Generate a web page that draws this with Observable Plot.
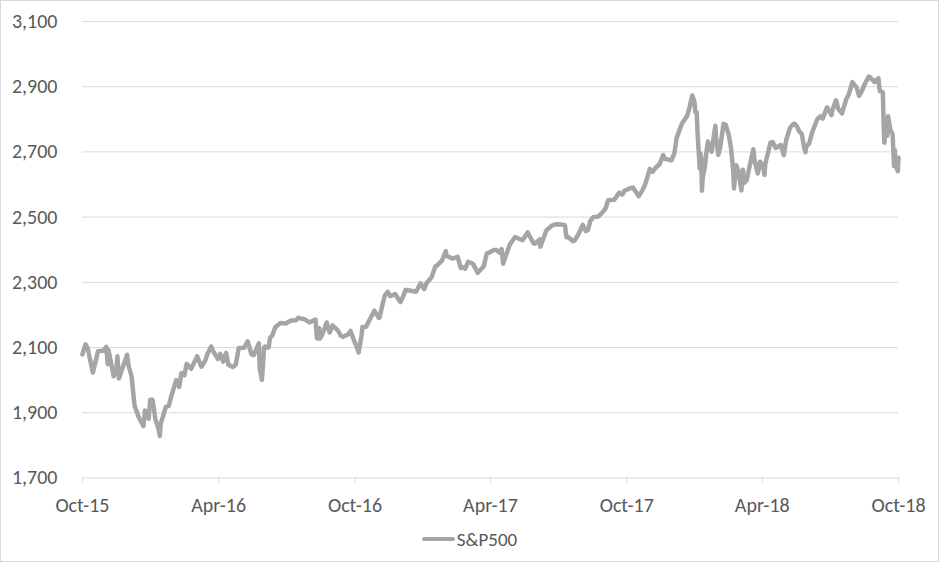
<!DOCTYPE html>
<html>
<head>
<meta charset="utf-8">
<script src="https://cdn.jsdelivr.net/npm/d3@7"></script>
<script src="https://cdn.jsdelivr.net/npm/@observablehq/plot@0.6"></script>
<style>
  html, body { margin: 0; padding: 0; background: #fff; }
  #frame { position: relative; width: 937px; height: 560px; border: 1px solid #d9d9d9; overflow: hidden; font-family: Carlito, Lato, sans-serif; }
  #chart { position: absolute; left: -1px; top: -1px; }
  #legend { position: absolute; left: 0; top: 524px; width: 937px; height: 28px; display: flex; justify-content: center; align-items: center; color: #595959; font-size: 19px; }
  #legend .sw { display: inline-block; width: 33px; height: 4px; background: #a5a5a5; margin-right: 2px; border-radius: 2px; }
</style>
</head>
<body>
<div id="frame">
  <div id="chart"></div>
  <div id="legend"><span class="sw"></span><span>S&amp;P500</span></div>
</div>
<script>
const seriesName = "S&P500";
const dates = [
"2015-10-30","2015-11-03","2015-11-06","2015-11-13","2015-11-20","2015-11-27","2015-12-01","2015-12-03","2015-12-04","2015-12-11","2015-12-15","2015-12-16","2015-12-18","2015-12-29","2015-12-31",
"2016-01-04","2016-01-08","2016-01-13","2016-01-15","2016-01-20","2016-01-22","2016-01-27","2016-01-29","2016-02-01","2016-02-03","2016-02-05","2016-02-09","2016-02-11","2016-02-12","2016-02-16","2016-02-19","2016-02-23","2016-02-26","2016-03-01","2016-03-04","2016-03-08","2016-03-11","2016-03-15","2016-03-18","2016-03-24","2016-04-01","2016-04-07","2016-04-12","2016-04-15","2016-04-20","2016-04-22","2016-04-29","2016-05-02","2016-05-06","2016-05-10","2016-05-13","2016-05-19","2016-05-23","2016-05-27","2016-06-03","2016-06-08","2016-06-13","2016-06-16","2016-06-23","2016-06-24","2016-06-27","2016-06-30","2016-07-01","2016-07-06","2016-07-08","2016-07-11","2016-07-15","2016-07-22","2016-07-29","2016-08-05","2016-08-12","2016-08-15","2016-08-23","2016-08-30","2016-09-07","2016-09-09","2016-09-12","2016-09-13","2016-09-16","2016-09-22","2016-09-26","2016-09-30","2016-10-07","2016-10-11","2016-10-14","2016-10-21","2016-10-24","2016-10-28","2016-11-02","2016-11-04","2016-11-08","2016-11-09","2016-11-14","2016-11-18","2016-11-25","2016-12-01","2016-12-02","2016-12-07","2016-12-09","2016-12-13","2016-12-16","2016-12-23","2016-12-30",
"2017-01-03","2017-01-06","2017-01-13","2017-01-20","2017-01-26","2017-01-31","2017-02-03","2017-02-10","2017-02-15","2017-02-17","2017-02-24","2017-03-01","2017-03-02","2017-03-10","2017-03-17","2017-03-21","2017-03-22","2017-03-27","2017-03-31","2017-04-04","2017-04-07","2017-04-13","2017-04-18","2017-04-21","2017-04-25","2017-05-05","2017-05-08","2017-05-12","2017-05-15","2017-05-17","2017-05-18","2017-05-26","2017-06-02","2017-06-09","2017-06-12","2017-06-19","2017-06-27","2017-06-29","2017-07-05","2017-07-06","2017-07-14","2017-07-21","2017-07-26","2017-08-04","2017-08-08","2017-08-10","2017-08-11","2017-08-17","2017-08-18","2017-08-21","2017-08-25","2017-09-01","2017-09-05","2017-09-08","2017-09-11","2017-09-15","2017-09-22","2017-09-29","2017-10-02","2017-10-05","2017-10-13","2017-10-20","2017-10-24","2017-10-27","2017-11-03","2017-11-07","2017-11-10","2017-11-15","2017-11-20","2017-11-24","2017-11-30","2017-12-04","2017-12-08","2017-12-13","2017-12-18","2017-12-20","2017-12-29",
"2018-01-02","2018-01-05","2018-01-12","2018-01-19","2018-01-22","2018-01-26","2018-01-29","2018-01-30","2018-02-01","2018-02-02","2018-02-05","2018-02-06","2018-02-07","2018-02-08","2018-02-09","2018-02-12","2018-02-14","2018-02-16","2018-02-21","2018-02-26","2018-02-27","2018-03-02","2018-03-05","2018-03-09","2018-03-12","2018-03-16","2018-03-19","2018-03-22","2018-03-23","2018-03-26","2018-03-29","2018-04-02","2018-04-03","2018-04-04","2018-04-06","2018-04-09","2018-04-13","2018-04-18","2018-04-20","2018-04-24","2018-04-27","2018-05-01","2018-05-03","2018-05-04","2018-05-11","2018-05-14","2018-05-18","2018-05-25","2018-05-29","2018-06-01","2018-06-06","2018-06-08","2018-06-12","2018-06-15","2018-06-19","2018-06-22","2018-06-25","2018-06-27","2018-06-28","2018-07-02","2018-07-06","2018-07-13","2018-07-17","2018-07-20","2018-07-26","2018-08-01","2018-08-02","2018-08-07","2018-08-10","2018-08-15","2018-08-21","2018-08-24","2018-08-29","2018-09-04","2018-09-07","2018-09-11","2018-09-14","2018-09-20","2018-09-21","2018-09-28","2018-10-03","2018-10-04","2018-10-05","2018-10-08","2018-10-09","2018-10-10","2018-10-11","2018-10-12","2018-10-15","2018-10-16","2018-10-19","2018-10-22","2018-10-24","2018-10-25","2018-10-26","2018-10-29","2018-10-30"
];
const values = [
2079,2110,2099,2023,2089,2090,2102,2049,2092,2012,2043,2073,2005,2078,2044,
2012,1922,1890,1880,1859,1907,1882,1940,1940,1912,1880,1852,1829,1865,1895,1918,1921,1948,1978,2000,1979,2022,2015,2050,2035,2073,2041,2061,2081,2103,2091,2065,2081,2057,2084,2047,2040,2048,2099,2099,2119,2079,2077,2113,2037,2001,2099,2103,2100,2130,2137,2162,2175,2174,2183,2184,2191,2187,2177,2186,2128,2159,2127,2139,2177,2146,2168,2153,2136,2133,2141,2151,2126,2098,2085,2140,2163,2164,2182,2213,2191,2192,2241,2259,2271,2258,2264,2239,
2258,2277,2274,2271,2297,2279,2297,2316,2349,2351,2367,2396,2381,2373,2378,2344,2348,2342,2363,2360,2355,2329,2342,2349,2388,2399,2399,2391,2402,2357,2365,2416,2439,2432,2429,2453,2419,2419,2432,2409,2459,2473,2478,2477,2475,2438,2441,2430,2426,2428,2443,2476,2457,2461,2488,2500,2502,2519,2529,2552,2553,2575,2569,2581,2588,2591,2582,2564,2582,2602,2648,2639,2652,2662,2690,2679,2674,
2696,2743,2786,2810,2833,2873,2853,2822,2822,2762,2649,2695,2682,2581,2620,2656,2698,2732,2701,2780,2744,2691,2721,2786,2783,2752,2712,2643,2588,2659,2641,2582,2614,2645,2605,2613,2656,2708,2670,2634,2670,2655,2630,2663,2728,2730,2712,2721,2690,2735,2772,2779,2787,2780,2762,2755,2717,2699,2716,2726,2760,2801,2809,2802,2837,2813,2827,2858,2833,2818,2863,2875,2914,2896,2872,2888,2905,2931,2930,2914,2926,2902,2886,2884,2881,2785,2728,2767,2750,2809,2768,2755,2656,2706,2658,2641,2682
];
const yTicks = [1700, 1900, 2100, 2300, 2500, 2700, 2900, 3100];
const xTickDates = ["2015-10-30","2016-04-30","2016-10-30","2017-04-30","2017-10-30","2018-04-30","2018-10-30"];
const xDomain = ["2015-10-30", "2018-10-30"];

const parse = d3.utcParse("%Y-%m-%d");
const data = dates.map((d, i) => ({date: parse(d), value: values[i]}));
const xTicks = xTickDates.map(parse);

const chart = Plot.plot({
  width: 939,
  height: 516,
  marginLeft: 82,
  marginRight: 40,
  marginTop: 21,
  marginBottom: 38,
  style: {fontFamily: "Carlito, Lato, sans-serif", fontSize: "20px", color: "#595959", background: "transparent", overflow: "visible"},
  x: {type: "utc", domain: xDomain.map(parse), label: null},
  y: {domain: [1700, 3100], label: null},
  marks: [
    Plot.gridY(yTicks, {stroke: "#d9d9d9", strokeOpacity: 1, strokeWidth: 1}),
    Plot.axisY(yTicks, {tickSize: 0, tickPadding: 25, tickFormat: d3.format(","), fill: "#595959", fontSize: 20, label: null}),
    Plot.axisX(xTicks, {tickSize: 5, tickPadding: 15, stroke: "#d9d9d9", strokeOpacity: 1, tickFormat: d3.utcFormat("%b-%y"), fill: "#595959", fontSize: 20, label: null}),
    Plot.line(data, {x: "date", y: "value", stroke: "#a5a5a5", strokeWidth: 4.5, strokeLinejoin: "round", strokeLinecap: "round"})
  ]
});
document.getElementById("chart").appendChild(chart);
</script>
</body>
</html>
